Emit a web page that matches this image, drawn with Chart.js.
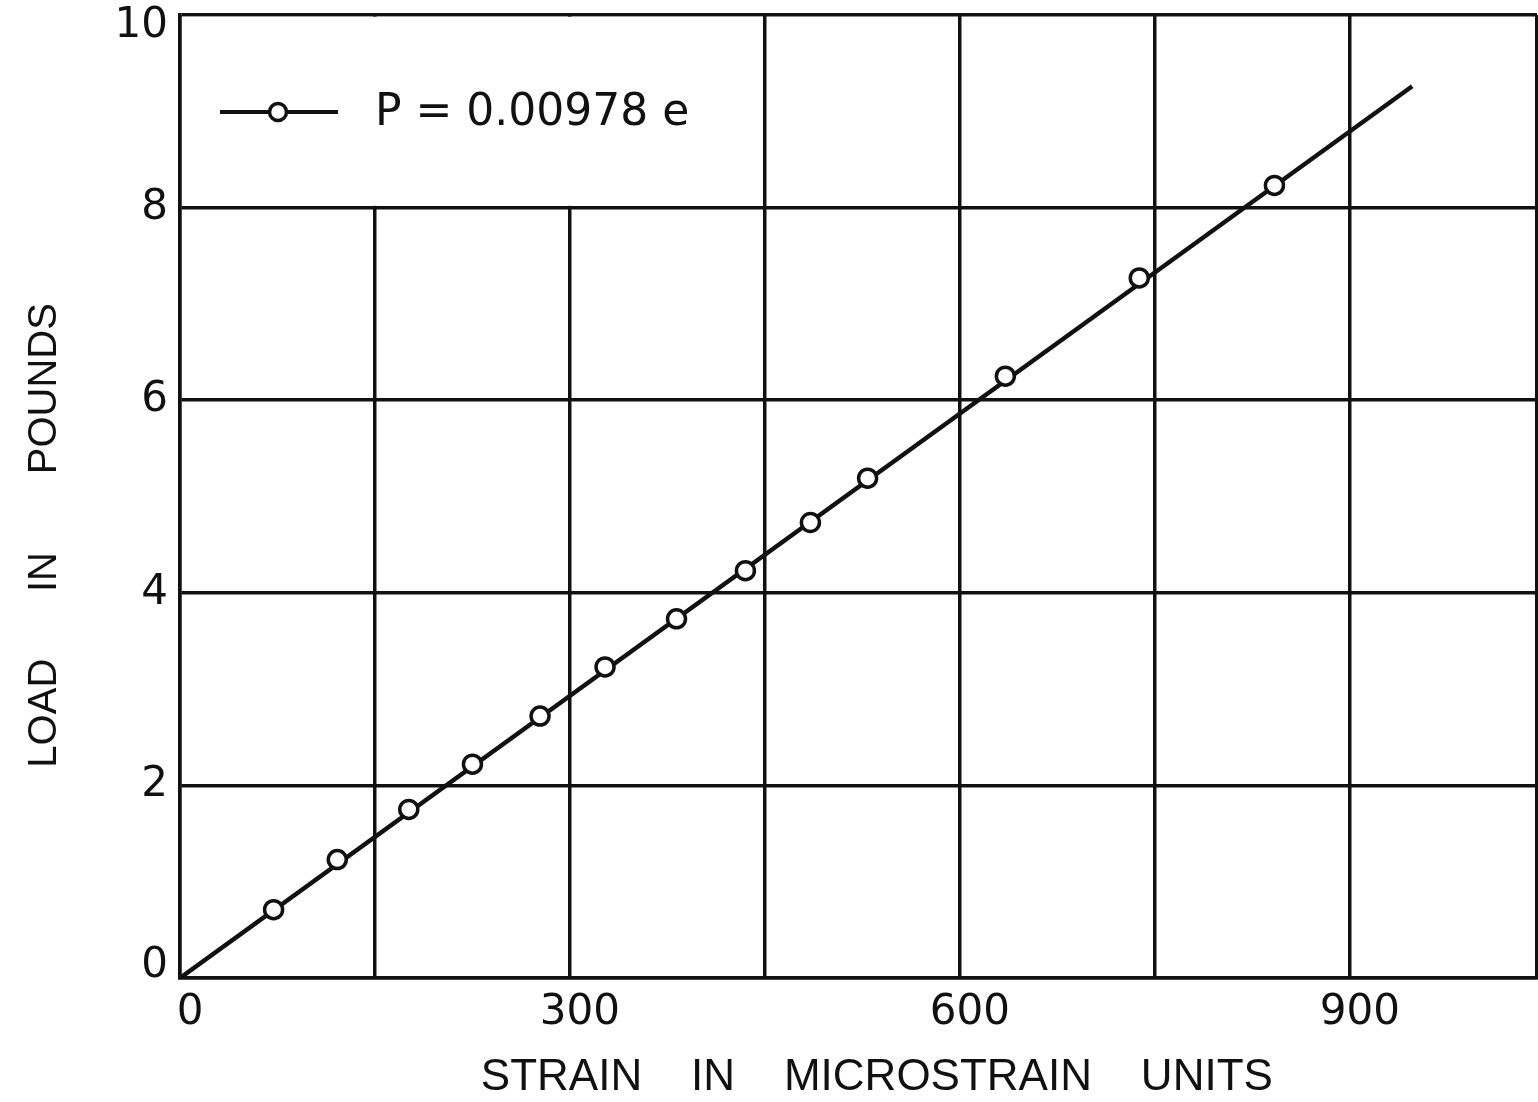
<!DOCTYPE html>
<html>
<head>
<meta charset="utf-8">
<script src="https://cdn.jsdelivr.net/npm/chart.js@4.4.1/dist/chart.umd.min.js"></script>
<style>
  html, body { margin: 0; padding: 0; background: #fff; }
  #wrap { width: 1538px; height: 1102px; }
</style>
</head>
<body>
<div id="wrap"><canvas id="c" width="1538" height="1102"></canvas></div>
<script>
// ---- data ----
const strainValues = [72, 121, 176, 225, 277, 327, 382, 435, 485, 529, 635, 738, 842];
const loadValues   = [0.71, 1.23, 1.75, 2.22, 2.72, 3.23, 3.73, 4.23, 4.73, 5.19, 6.25, 7.27, 8.23];
const fitStrain = [0, 948];
const fitLoad   = [0, 9.26];
const xMax = 1044;
const xGridValues = [0, 150, 300, 450, 600, 750, 900, xMax];
const xTickLabels = [0, 300, 600, 900];
const yGridValues = [0, 2, 4, 6, 8, 10];
const yTickLabels = [0, 2, 4, 6, 8, 10];
const legendText = "P = 0.00978 e";
const xTitle = "   STRAIN    IN    MICROSTRAIN    UNITS";
const yTitle = "LOAD      IN       POUNDS       ";

const pts = strainValues.map((x, i) => ({ x: x, y: loadValues[i] }));
const fit = fitStrain.map((x, i) => ({ x: x, y: fitLoad[i] }));

const plugin = {
  id: 'custom',
  beforeDraw(chart) {
    const ctx = chart.ctx;
    ctx.save();
    ctx.fillStyle = '#fff';
    ctx.fillRect(0, 0, chart.width, chart.height);
    ctx.restore();
  },
  beforeDatasetsDraw(chart) {
    // blank legend panel (grid lines at 150/300 stop at 8)
    const { ctx, scales: { x, y } } = chart;
    ctx.save();
    ctx.fillStyle = '#fff';
    const x0 = x.getPixelForValue(0) + 2, x1 = x.getPixelForValue(450) - 2;
    const y0 = y.getPixelForValue(10) + 1.75, y1 = y.getPixelForValue(8) - 1.75;
    ctx.fillRect(x0, y0, x1 - x0, y1 - y0);
    ctx.restore();
  },
  afterDatasetsDraw(chart) {
    const { ctx, chartArea } = chart;
    const lx = chartArea.left + 40, ly = chartArea.top + 97;
    ctx.save();
    ctx.strokeStyle = '#111';
    ctx.lineWidth = 4;
    ctx.beginPath();
    ctx.moveTo(lx, ly);
    ctx.lineTo(lx + 118, ly);
    ctx.stroke();
    ctx.beginPath();
    ctx.arc(lx + 58, ly, 8.5, 0, Math.PI * 2);
    ctx.fillStyle = '#fff';
    ctx.fill();
    ctx.lineWidth = 3.5;
    ctx.stroke();
    ctx.fillStyle = '#111';
    ctx.font = '44px "DejaVu Sans"';
    ctx.textBaseline = 'middle';
    ctx.fillText(legendText, lx + 155, ly + 2);
    ctx.restore();
  }
};

new Chart(document.getElementById('c'), {
  type: 'scatter',
  data: {
    datasets: [
      {
        label: 'points',
        data: pts,
        showLine: false,
        pointRadius: 9,
        pointHoverRadius: 9,
        pointBorderWidth: 3.5,
        pointBackgroundColor: '#fff',
        pointBorderColor: '#111'
      },
      {
        label: 'fit',
        data: fit,
        showLine: true,
        borderColor: '#111',
        borderWidth: 4.5,
        pointRadius: 0,
        tension: 0,
        fill: false
      }
    ]
  },
  options: {
    responsive: false,
    animation: false,
    devicePixelRatio: 1,
    layout: { autoPadding: false, padding: { top: 15, right: 1, left: 0, bottom: 0 } },
    plugins: { legend: { display: false }, tooltip: { enabled: false } },
    scales: {
      x: {
        type: 'linear',
        min: 0,
        max: xMax,
        afterBuildTicks(s) { s.ticks = xGridValues.map(v => ({ value: v })); },
        afterFit(s) { s.height = 124; s.paddingLeft = 0; s.paddingRight = 0; },
        grid: { color: '#111', lineWidth: 3.5, drawTicks: false },
        border: { color: '#111', width: 3.5 },
        ticks: {
          font: { family: "DejaVu Sans", size: 42 },
          color: '#111',
          padding: 10,
          labelOffset: 10,
          maxRotation: 0,
          autoSkip: false,
          callback: (v) => xTickLabels.includes(v) ? String(v) : ''
        },
        title: {
          display: true,
          text: xTitle,
          color: '#111',
          font: { family: "Liberation Sans", size: 44, lineHeight: 1 },
          padding: { top: 0, bottom: 2 }
        }
      },
      y: {
        type: 'linear',
        min: 0,
        max: 10,
        afterBuildTicks(s) { s.ticks = yGridValues.map(v => ({ value: v })); },
        afterFit(s) { s.width = 180; s.paddingTop = 0; s.paddingBottom = 0; },
        grid: { color: '#111', lineWidth: 3.5, drawTicks: false },
        border: { color: '#111', width: 3.5 },
        ticks: {
          font: { family: "DejaVu Sans", size: 42, lineHeight: 0.55 },
          color: '#111',
          padding: 12,
          autoSkip: false,
          callback: (v) => {
            if (!yTickLabels.includes(v)) return '';
            if (v === yTickLabels[yTickLabels.length - 1]) return ['', String(v)];
            if (v === yTickLabels[0]) return [String(v), ''];
            return String(v);
          }
        },
        title: {
          display: true,
          text: yTitle,
          color: '#111',
          font: { family: "Liberation Sans", size: 40, lineHeight: 1 },
          padding: { top: 25, bottom: 0 }
        }
      }
    }
  },
  plugins: [plugin]
});
</script>
</body>
</html>
